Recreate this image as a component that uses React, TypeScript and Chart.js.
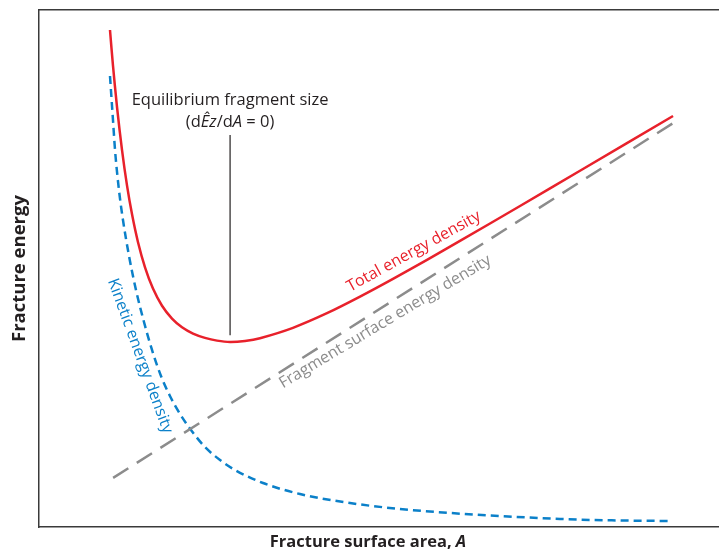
import React, { useEffect, useRef } from "react";
import { Chart, registerables } from "chart.js";

Chart.register(...registerables);

// Fracture surface area (arbitrary units) and energies (arbitrary units)
const totalX = [1.044, 1.088, 1.147, 1.221, 1.294, 1.368, 1.456, 1.559, 1.676, 1.809, 1.956, 2.103, 2.265, 2.441, 2.618, 2.809, 3.029, 3.25, 3.735, 4.235, 4.721, 5.206, 5.706, 6.191, 7.074, 7.956, 9.324];
const totalY = [9.613, 8.925, 8.126, 7.29, 6.607, 6.048, 5.509, 5.023, 4.611, 4.28, 4.031, 3.863, 3.741, 3.658, 3.605, 3.578, 3.598, 3.652, 3.853, 4.135, 4.456, 4.799, 5.168, 5.534, 6.209, 6.89, 7.95];

const kineticX = [1.044, 1.088, 1.118, 1.176, 1.235, 1.324, 1.426, 1.544, 1.662, 1.794, 1.926, 2.074, 2.235, 2.441, 2.662, 2.882, 3.294, 3.838, 4.574, 5.309, 6.044, 6.779, 7.662, 8.544, 9.279];
const kineticY = [8.723, 7.872, 7.292, 6.518, 5.938, 5.242, 4.584, 3.965, 3.424, 2.921, 2.534, 2.186, 1.876, 1.547, 1.296, 1.103, 0.851, 0.638, 0.464, 0.348, 0.271, 0.213, 0.155, 0.126, 0.116];

const surfaceX = [1.09, 9.37];
const surfaceY = [0.95, 7.85];

// Equilibrium marker (minimum of total energy)
const eqX = [2.81, 2.81];
const eqY = [3.71, 7.58];

const xMin = 0;
const xMax = 10;
const yMin = 0;
const yMax = 10;

const RED = "#e8212b";
const BLUE = "#0b80c9";
const GRAY = "#8c8c8c";
const FONT = "'Open Sans', 'Noto Sans', sans-serif";

const toPts = (xs: number[], ys: number[]) => xs.map((x, i) => ({ x, y: ys[i] }));

const labelsPlugin = {
  id: "annotLabels",
  afterDatasetsDraw(chart: any) {
    const { ctx, scales, chartArea } = chart;
    const px = (v: number) => scales.x.getPixelForValue(v);
    const py = (v: number) => scales.y.getPixelForValue(v);
    ctx.save();

    // Equilibrium label
    ctx.fillStyle = "#231f20";
    ctx.textAlign = "center";
    ctx.textBaseline = "middle";
    ctx.font = `16.5px ${FONT}`;
    ctx.fillText("Equilibrium fragment size", px(2.81), py(8.26));
    const parts: [string, boolean][] = [["(d", false], ["Êz", true], ["/d", false], ["A", true], [" = 0)", false]];
    let total = 0;
    for (const [t, it] of parts) {
      ctx.font = `${it ? "italic " : ""}16.5px ${FONT}`;
      total += ctx.measureText(t).width;
    }
    let cx = px(2.81) - total / 2;
    ctx.textAlign = "left";
    for (const [t, it] of parts) {
      ctx.font = `${it ? "italic " : ""}16.5px ${FONT}`;
      ctx.fillText(t, cx, py(7.83));
      cx += ctx.measureText(t).width;
    }

    // Curve labels
    const rotLabel = (text: string, x: number, y: number, deg: number, color: string) => {
      ctx.save();
      ctx.translate(px(x), py(y));
      ctx.rotate((deg * Math.PI) / 180);
      ctx.fillStyle = color;
      ctx.font = `16px ${FONT}`;
      ctx.textAlign = "center";
      ctx.textBaseline = "middle";
      ctx.fillText(text, 0, 0);
      ctx.restore();
    };
    rotLabel("Total energy density", 5.51, 5.33, -29, RED);
    rotLabel("Fragment surface energy density", 5.09, 3.97, -31, GRAY);
    rotLabel("Kinetic energy density", 1.485, 3.31, 70, BLUE);

    // Axis titles
    ctx.fillStyle = "#231f20";
    ctx.textBaseline = "middle";
    ctx.save();
    ctx.translate(20, (chartArea.top + chartArea.bottom) / 2);
    ctx.rotate(-Math.PI / 2);
    ctx.textAlign = "center";
    ctx.font = `bold 18.5px ${FONT}`;
    ctx.fillText("Fracture energy", 0, 0);
    ctx.restore();

    const a = "Fracture surface area, ";
    const b = "A";
    ctx.font = `bold 16.5px ${FONT}`;
    const wa = ctx.measureText(a).width;
    ctx.font = `italic bold 16.5px ${FONT}`;
    const wb = ctx.measureText(b).width;
    const startX = chartArea.left + 329 - (wa + wb) / 2;
    ctx.textAlign = "left";
    ctx.font = `bold 16.5px ${FONT}`;
    ctx.fillText(a, startX, chartArea.bottom + 15);
    ctx.font = `italic bold 16.5px ${FONT}`;
    ctx.fillText(b, startX + wa, chartArea.bottom + 15);

    ctx.restore();
  },
};

export default function App() {
  const ref = useRef<HTMLCanvasElement | null>(null);
  useEffect(() => {
    if (!ref.current) return;
    const chart = new Chart(ref.current, {
      type: "line",
      data: {
        datasets: [
          {
            label: "Fragment surface energy density",
            data: toPts(surfaceX, surfaceY),
            borderColor: GRAY,
            borderWidth: 2.5,
            borderDash: [18, 10],
            pointRadius: 0,
            tension: 0,
          },
          {
            label: "Kinetic energy density",
            data: toPts(kineticX, kineticY),
            borderColor: BLUE,
            borderWidth: 2.5,
            borderDash: [8, 5],
            pointRadius: 0,
            cubicInterpolationMode: "monotone",
          },
          {
            label: "Total energy density",
            data: toPts(totalX, totalY),
            borderColor: RED,
            borderWidth: 2.5,
            pointRadius: 0,
            tension: 0.3,
          },
          {
            label: "Equilibrium",
            data: toPts(eqX, eqY),
            borderColor: "#231f20",
            borderWidth: 1.2,
            pointRadius: 0,
          },
        ],
      },
      options: {
        responsive: false,
        animation: false,
        layout: { padding: { left: 39, top: 10, right: 0, bottom: 26 } },
        plugins: { legend: { display: false }, tooltip: { enabled: false } },
        scales: {
          x: {
            type: "linear",
            min: xMin,
            max: xMax,
            position: "bottom",
            ticks: { display: false },
            grid: { display: false, drawTicks: false },
            border: { display: true, color: "#3a3a3a", width: 1.5 },
          },
          xTop: {
            type: "linear",
            min: xMin,
            max: xMax,
            position: "top",
            ticks: { display: false },
            grid: { display: false, drawTicks: false },
            border: { display: true, color: "#3a3a3a", width: 1.5 },
          },
          y: {
            type: "linear",
            min: yMin,
            max: yMax,
            ticks: { display: false },
            grid: { display: false, drawTicks: false },
            border: { display: true, color: "#3a3a3a", width: 1.5 },
          },
        },
      },
      plugins: [labelsPlugin],
    });
    return () => chart.destroy();
  }, []);
  return (
    <div style={{ position: "absolute", left: 0, top: 0, width: 719, height: 553, background: "#fff" }}>
      <canvas ref={ref} width={719} height={553} />
    </div>
  );
}
